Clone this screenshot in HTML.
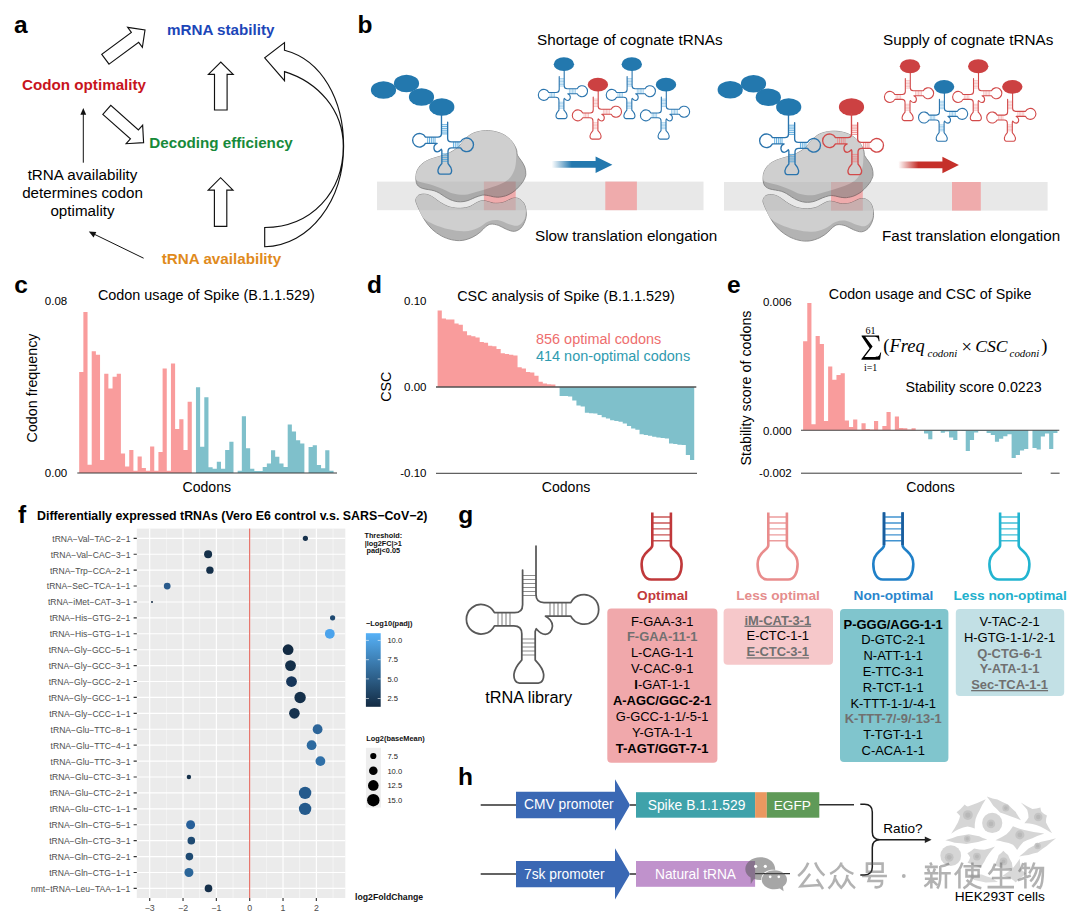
<!DOCTYPE html>
<html><head><meta charset="utf-8"><title>Figure</title>
<style>html,body{margin:0;padding:0;background:#fff}body{width:1080px;height:920px;overflow:hidden}svg{display:block}text{font-family:"Liberation Sans",sans-serif}</style>
</head><body>
<svg width="1080" height="920" viewBox="0 0 1080 920">
<defs>
<linearGradient id="gb" x1="0" x2="1" y1="0" y2="0"><stop offset="0" stop-color="#2378ae" stop-opacity="0"/><stop offset="0.33" stop-color="#2378ae" stop-opacity="1"/></linearGradient>
<linearGradient id="gr" x1="0" x2="1" y1="0" y2="0"><stop offset="0" stop-color="#c5302a" stop-opacity="0"/><stop offset="0.33" stop-color="#c5302a" stop-opacity="1"/></linearGradient>
<linearGradient id="cb" x1="0" x2="0" y1="0" y2="1"><stop offset="0" stop-color="#56b1f7"/><stop offset="1" stop-color="#132b43"/></linearGradient>
</defs>
<rect width="1080" height="920" fill="#fff"/>
<g id="pa">
<text x="14" y="33" font-size="24.5" font-weight="bold" fill="#000">a</text>
<text x="167" y="34.6" font-size="15.2" font-weight="bold" fill="#1c46b8">mRNA stability</text>
<text x="22" y="89.5" font-size="15.2" font-weight="bold" fill="#c8141c">Codon optimality</text>
<text x="149.3" y="147.6" font-size="15.2" font-weight="bold" fill="#178a3a">Decoding efficiency</text>
<text x="161.8" y="263.8" font-size="15.2" font-weight="bold" fill="#e08a1c">tRNA availability</text>
<text x="82.5" y="180.2" font-size="15.2" text-anchor="middle" fill="#000">tRNA availability</text>
<text x="82.5" y="198.2" font-size="15.2" text-anchor="middle" fill="#000">determines codon</text>
<text x="82.5" y="216.2" font-size="15.2" text-anchor="middle" fill="#000">optimality</text>
<polygon points="109.05,64.15 138.67,42.31 142.38,47.34 145,30 127.66,27.38 131.37,32.41 101.75,54.25" fill="#fff" stroke="#111" stroke-width="1.15"/>
<polygon points="102.81,114.39 130.42,138.92 126.17,143.7 143.6,142.6 142.64,125.16 138.39,129.94 110.79,105.41" fill="#fff" stroke="#111" stroke-width="1.15"/>
<polygon points="227.1,110 227.1,74.4 233.2,74.4 220.8,62 208.4,74.4 214.5,74.4 214.5,110" fill="#fff" stroke="#111" stroke-width="1.15"/>
<polygon points="226.8,226.3 226.8,190.1 233,190.1 220.6,177.7 208.2,190.1 214.4,190.1 214.4,226.3" fill="#fff" stroke="#111" stroke-width="1.15"/>
<path d="M264.7,246.7 C310,246 343.6,200 343.6,146.2 C343.6,100 322,60 284.5,50.3 L284.5,42.6 L264.7,57.9 L284.5,80.7 L284.5,71.6 C318,82 343.3,110 343.3,146.2 C343.3,192 312,227 264.7,227.5 Z" fill="#fff" stroke="#111" stroke-width="1.15" stroke-linejoin="miter"/>
<path d="M83.3,162.7 L83.3,113" stroke="#111" stroke-width="1" fill="none"/>
<path d="M80.4,114.8 L83.3,108 L86.2,114.8 Z" fill="#111"/>
<path d="M143.6,258.2 L93,233.6" stroke="#111" stroke-width="1" fill="none"/>
<path d="M93.6,237.4 L88.8,231.5 L96.3,231.9 Z" fill="#111"/>
</g>
<g id="pb">
<text x="357.5" y="33" font-size="24.5" font-weight="bold" fill="#000">b</text>
<text x="537" y="44.5" font-size="15.25" fill="#000">Shortage of cognate tRNAs</text>
<text x="883" y="44.5" font-size="15.25" fill="#000">Supply of cognate tRNAs</text>
<text x="535" y="240.5" font-size="15.25" fill="#000">Slow translation elongation</text>
<text x="882" y="240.5" font-size="15.2" fill="#000">Fast translation elongation</text>
<rect x="377" y="181.6" width="326.5" height="28.6" fill="#e8e8e8"/>
<rect x="724" y="182" width="323.6" height="28.6" fill="#e8e8e8"/>
<rect x="483.9" y="181.6" width="31.8" height="28.6" fill="#efabac"/>
<rect x="605.3" y="181.6" width="31.6" height="28.6" fill="#efabac"/>
<rect x="831" y="182" width="31.8" height="28.6" fill="#efabac"/>
<rect x="952" y="182" width="28.8" height="28.6" fill="#efabac"/>
<g opacity="0.6"><path d="M415.8,200.13C415.98,198.48 417.03,196.43 418.35,195.43C419.66,194.43 421.93,194.18 423.7,194.13C425.46,194.07 427.16,194.45 428.91,195.11C430.66,195.76 432.46,196.92 434.19,198.04C435.93,199.16 437.6,200.67 439.35,201.82C441.1,202.97 442.93,204.07 444.69,204.95C446.45,205.83 448.16,206.58 449.91,207.11C451.66,207.63 453.45,207.88 455.19,208.08C456.93,208.29 458.6,208.41 460.35,208.34C462.1,208.28 464.04,208.02 465.69,207.69C467.35,207.37 468.67,207.08 470.26,206.39C471.85,205.69 473.58,204.39 475.21,203.52C476.84,202.65 478.58,201.63 480.04,201.17C481.5,200.71 482.58,200.69 483.95,200.78C485.32,200.87 486.69,201.3 488.26,201.69C489.82,202.08 491.76,202.87 493.34,203.13C494.93,203.39 496.3,203.32 497.78,203.26C499.26,203.19 500.74,203.11 502.21,202.74C503.69,202.37 505.17,201.68 506.65,201.04C508.13,200.4 509.8,199.39 511.08,198.89C512.37,198.39 513.23,198.14 514.34,198.04C515.45,197.94 516.6,197.93 517.73,198.3C518.86,198.67 520.1,199.43 521.13,200.26C522.15,201.08 523.13,202 523.86,203.26C524.6,204.52 525.15,205.87 525.56,207.82C525.97,209.78 526.47,212.71 526.34,215C526.21,217.28 525.69,219.34 524.78,221.52C523.86,223.69 522.6,226.41 520.86,228.04C519.13,229.67 516.73,231.08 514.34,231.3C511.95,231.52 509.13,230.32 506.52,229.34C503.91,228.37 501.3,226.3 498.69,225.43C496.08,224.56 493.04,223.91 490.87,224.13C488.69,224.34 487.39,225.43 485.65,226.73C483.91,228.04 482.61,230.21 480.43,231.95C478.26,233.69 475.65,235.76 472.61,237.17C469.56,238.58 465.65,240 462.17,240.43C458.69,240.86 455.22,240.54 451.74,239.78C448.26,239.02 444.56,237.6 441.3,235.86C438.04,234.13 434.78,231.73 432.17,229.34C429.56,226.95 427.37,223.91 425.65,221.52C423.93,219.13 422.87,216.82 421.87,215C420.87,213.17 420.41,212.17 419.65,210.56C418.89,208.95 417.95,207.08 417.3,205.34C416.66,203.61 415.63,201.78 415.8,200.13Z" fill="#828282" stroke="#3c3c3c" stroke-width="0.9"/><path d="M415.8,200.13C415.76,197.95 417.03,196.43 418.35,195.43C419.66,194.43 421.93,194.18 423.7,194.13C425.46,194.07 427.16,194.45 428.91,195.11C430.66,195.76 432.46,196.92 434.19,198.04C435.93,199.16 437.6,200.67 439.35,201.82C441.1,202.97 442.93,204.07 444.69,204.95C446.45,205.83 448.16,206.58 449.91,207.11C451.66,207.63 453.45,207.88 455.19,208.08C456.93,208.29 458.6,208.41 460.35,208.34C462.1,208.28 464.04,208.02 465.69,207.69C467.35,207.37 468.67,207.08 470.26,206.39C471.85,205.69 473.58,204.39 475.21,203.52C476.84,202.65 478.58,201.63 480.04,201.17C481.5,200.71 482.58,200.69 483.95,200.78C485.32,200.87 486.69,201.3 488.26,201.69C489.82,202.08 491.76,202.87 493.34,203.13C494.93,203.39 496.3,203.32 497.78,203.26C499.26,203.19 500.74,203.11 502.21,202.74C503.69,202.37 505.17,201.68 506.65,201.04C508.13,200.4 509.8,199.39 511.08,198.89C512.37,198.39 513.23,198.14 514.34,198.04C515.45,197.94 516.6,197.93 517.73,198.3C518.86,198.67 520.1,199.43 521.13,200.26C522.15,201.08 523.13,202 523.86,203.26C524.6,204.52 525.23,206.3 525.56,207.82C525.89,209.34 525.99,210.5 525.82,212.39C525.65,214.28 525.78,217 524.52,219.17C523.26,221.34 520.82,224.6 518.26,225.43C515.69,226.26 512.39,225 509.13,224.13C505.87,223.26 502.17,220.65 498.69,220.21C495.21,219.78 491.74,220.21 488.26,221.52C484.78,222.82 481.74,226.41 477.82,228.04C473.91,229.67 469.56,231.08 464.78,231.3C460,231.52 454.35,230.54 449.13,229.34C443.91,228.15 437.72,225.97 433.48,224.13C429.24,222.28 426.17,220.87 423.7,218.26C421.22,215.65 419.92,211.5 418.61,208.47C417.29,205.45 415.85,202.3 415.8,200.13Z" fill="#b0b0b0"/><path d="M415.87,177.17C416,175.18 416.2,172.82 417.17,170.65C418.15,168.48 419.67,165.98 421.74,164.13C423.8,162.28 426.52,160.87 429.56,159.56C432.61,158.26 436.74,157.39 440,156.3C443.26,155.22 446.09,154.56 449.13,153.04C452.17,151.52 455.65,149.46 458.26,147.17C460.87,144.89 462.39,141.63 464.78,139.35C467.17,137.06 469.56,134.89 472.61,133.48C475.65,132.06 479.56,131.24 483.04,130.87C486.52,130.5 490,130.61 493.47,131.26C496.95,131.91 500.87,133.11 503.91,134.78C506.95,136.46 509.67,138.91 511.73,141.3C513.8,143.69 515.34,146.8 516.3,149.13C517.26,151.46 516.67,153.37 517.47,155.26C518.28,157.15 519.91,158.52 521.13,160.48C522.34,162.43 524,164.65 524.78,167C525.56,169.35 525.97,172.39 525.82,174.56C525.67,176.74 524.47,178.67 523.86,180.04C523.26,181.41 523,181.67 522.17,182.78C521.34,183.89 520.21,185.3 518.91,186.69C517.6,188.08 515.82,189.93 514.34,191.13C512.87,192.32 511.5,193.08 510.04,193.87C508.58,194.65 507.1,195.32 505.6,195.82C504.1,196.32 502.34,196.64 501.04,196.87C499.74,197.09 499.06,197.21 497.78,197.19C496.5,197.17 494.93,197.01 493.34,196.74C491.76,196.46 489.76,195.84 488.26,195.56C486.76,195.28 485.54,195.06 484.34,195.04C483.15,195.02 482.61,195.04 481.08,195.43C479.56,195.82 477.02,196.69 475.21,197.39C473.41,198.08 471.85,198.98 470.26,199.61C468.67,200.24 467.35,200.81 465.69,201.17C464.04,201.54 462.11,201.78 460.35,201.8C458.58,201.81 456.87,201.64 455.13,201.25C453.39,200.86 451.65,200.25 449.91,199.48C448.17,198.7 446.45,197.67 444.69,196.61C442.93,195.54 441.11,194.06 439.35,193.08C437.59,192.11 435.98,191.32 434.13,190.74C432.28,190.15 430.19,189.95 428.26,189.56C426.33,189.17 424.17,188.96 422.52,188.39C420.87,187.81 419.37,187.07 418.35,186.11C417.33,185.14 416.8,184.09 416.39,182.6C415.98,181.11 415.74,179.16 415.87,177.17Z" fill="#828282" stroke="#3c3c3c" stroke-width="0.9"/><path d="M415.87,177.17C415.72,175.39 416.2,172.82 417.17,170.65C418.15,168.48 419.67,165.98 421.74,164.13C423.8,162.28 426.52,160.87 429.56,159.56C432.61,158.26 436.74,157.39 440,156.3C443.26,155.22 446.09,154.56 449.13,153.04C452.17,151.52 455.65,149.46 458.26,147.17C460.87,144.89 462.39,141.63 464.78,139.35C467.17,137.06 469.56,134.89 472.61,133.48C475.65,132.06 479.56,131.24 483.04,130.87C486.52,130.5 490,130.61 493.47,131.26C496.95,131.91 500.87,133.11 503.91,134.78C506.95,136.46 509.78,138.91 511.73,141.3C513.69,143.69 514.91,146.41 515.65,149.13C516.39,151.85 516.28,154.46 516.17,157.61C516.06,160.76 515.95,164.78 515,168.04C514.04,171.3 512.28,174.78 510.43,177.17C508.58,179.56 506.52,180.87 503.91,182.39C501.3,183.91 497.82,185.17 494.78,186.3C491.74,187.43 488.91,188.17 485.65,189.17C482.39,190.17 478.69,191.37 475.21,192.3C471.74,193.24 468.48,194.58 464.78,194.78C461.08,194.98 456.74,194.45 453.04,193.48C449.35,192.5 446.52,190.43 442.61,188.91C438.69,187.39 433.65,185.61 429.56,184.35C425.48,183.08 420.37,182.54 418.09,181.35C415.8,180.15 416.02,178.95 415.87,177.17Z" fill="#b0b0b0"/></g>
<ellipse cx="383.5" cy="90" rx="12.6" ry="8.8" fill="#2378ae"/>
<ellipse cx="406.5" cy="83.5" rx="12.6" ry="8.8" fill="#2378ae"/>
<ellipse cx="421.5" cy="97" rx="12.6" ry="8.8" fill="#2378ae"/>
<ellipse cx="441.8" cy="107" rx="12.6" ry="8.8" fill="#2378ae"/>
<path d="M447.64,124.71 L441.48,124.71 M447.64,126.55 L441.48,126.55 M447.64,128.39 L441.48,128.39 M447.64,130.23 L441.48,130.23 M447.64,132.07 L441.48,132.07 M447.64,133.91 L441.48,133.91 M448.01,153.92 L441.85,153.92 M448.01,155.76 L441.85,155.76 M448.01,157.6 L441.85,157.6 M448.01,159.44 L441.85,159.44 M448.01,161.28 L441.85,161.28 M458.96,141.82 L458.96,147.85 M457.12,141.82 L457.12,147.85 M455.28,141.82 L455.28,147.85 M453.44,141.82 L453.44,147.85 M435.04,137.18 L435.04,143.43 M433.2,137.18 L433.2,143.43 M431.36,137.18 L431.36,143.43 M429.52,137.18 L429.52,143.43 M427.68,137.18 L427.68,143.43 " fill="none" stroke="#4aa3dc" stroke-width="0.85"/><path d="M441.48,113.44 L441.48,133.5 Q441.48,137.18 437.8,137.18 L425.49,137.18 A6.81,6.81 0 1 0 425.49,143.43 L437.11,143.43 C435.73,144.03 433.75,145.87 433.94,148.17 C434.12,150.33 435.5,151.8 437.2,151.8 C438.95,151.8 440.19,150.61 441.39,149.23 L441.85,150.47 L441.85,163.58 C441.16,164.5 438.44,166.57 437.98,170.02 C437.8,172.09 438.49,174.16 440.42,174.16 L449.12,174.16 C451.05,174.16 451.78,172.09 451.6,170.02 C451.14,166.57 448.7,164.5 448.01,163.58 L448.01,151.53 Q448.01,147.85 451.69,147.85 L460.58,147.85 A6.81,6.81 0 1 0 460.58,141.82 L451.32,141.82 Q447.64,141.82 447.64,138.14 L447.64,122.18" fill="none" stroke="#2a74ad" stroke-width="1.35" stroke-linejoin="round" stroke-linecap="round"/>
<g opacity="0.6"><path d="M763,200.63C763.18,198.98 764.23,196.93 765.55,195.93C766.86,194.93 769.13,194.68 770.9,194.63C772.66,194.57 774.36,194.95 776.11,195.61C777.86,196.26 779.66,197.42 781.39,198.54C783.13,199.66 784.8,201.17 786.55,202.32C788.3,203.47 790.13,204.57 791.89,205.45C793.65,206.33 795.36,207.08 797.11,207.61C798.86,208.13 800.65,208.38 802.39,208.58C804.13,208.79 805.8,208.91 807.55,208.84C809.3,208.78 811.24,208.52 812.89,208.19C814.55,207.87 815.87,207.58 817.46,206.89C819.05,206.19 820.78,204.89 822.41,204.02C824.04,203.15 825.78,202.13 827.24,201.67C828.7,201.21 829.78,201.19 831.15,201.28C832.52,201.37 833.89,201.8 835.46,202.19C837.02,202.58 838.96,203.37 840.54,203.63C842.13,203.89 843.5,203.82 844.98,203.76C846.46,203.69 847.94,203.61 849.41,203.24C850.89,202.87 852.37,202.18 853.85,201.54C855.33,200.9 857,199.89 858.28,199.39C859.57,198.89 860.43,198.64 861.54,198.54C862.65,198.44 863.8,198.43 864.93,198.8C866.06,199.17 867.3,199.93 868.33,200.76C869.35,201.58 870.33,202.5 871.06,203.76C871.8,205.02 872.35,206.37 872.76,208.32C873.17,210.28 873.67,213.21 873.54,215.5C873.41,217.78 872.89,219.84 871.98,222.02C871.06,224.19 869.8,226.91 868.06,228.54C866.33,230.17 863.93,231.58 861.54,231.8C859.15,232.02 856.33,230.82 853.72,229.84C851.11,228.87 848.5,226.8 845.89,225.93C843.28,225.06 840.24,224.41 838.07,224.63C835.89,224.84 834.59,225.93 832.85,227.23C831.11,228.54 829.81,230.71 827.63,232.45C825.46,234.19 822.85,236.26 819.81,237.67C816.76,239.08 812.85,240.5 809.37,240.93C805.89,241.36 802.42,241.04 798.94,240.28C795.46,239.52 791.76,238.1 788.5,236.36C785.24,234.63 781.98,232.23 779.37,229.84C776.76,227.45 774.57,224.41 772.85,222.02C771.13,219.63 770.07,217.32 769.07,215.5C768.07,213.67 767.61,212.67 766.85,211.06C766.09,209.45 765.15,207.58 764.5,205.84C763.86,204.11 762.83,202.28 763,200.63Z" fill="#828282" stroke="#3c3c3c" stroke-width="0.9"/><path d="M763,200.63C762.96,198.45 764.23,196.93 765.55,195.93C766.86,194.93 769.13,194.68 770.9,194.63C772.66,194.57 774.36,194.95 776.11,195.61C777.86,196.26 779.66,197.42 781.39,198.54C783.13,199.66 784.8,201.17 786.55,202.32C788.3,203.47 790.13,204.57 791.89,205.45C793.65,206.33 795.36,207.08 797.11,207.61C798.86,208.13 800.65,208.38 802.39,208.58C804.13,208.79 805.8,208.91 807.55,208.84C809.3,208.78 811.24,208.52 812.89,208.19C814.55,207.87 815.87,207.58 817.46,206.89C819.05,206.19 820.78,204.89 822.41,204.02C824.04,203.15 825.78,202.13 827.24,201.67C828.7,201.21 829.78,201.19 831.15,201.28C832.52,201.37 833.89,201.8 835.46,202.19C837.02,202.58 838.96,203.37 840.54,203.63C842.13,203.89 843.5,203.82 844.98,203.76C846.46,203.69 847.94,203.61 849.41,203.24C850.89,202.87 852.37,202.18 853.85,201.54C855.33,200.9 857,199.89 858.28,199.39C859.57,198.89 860.43,198.64 861.54,198.54C862.65,198.44 863.8,198.43 864.93,198.8C866.06,199.17 867.3,199.93 868.33,200.76C869.35,201.58 870.33,202.5 871.06,203.76C871.8,205.02 872.43,206.8 872.76,208.32C873.09,209.84 873.19,211 873.02,212.89C872.85,214.78 872.98,217.5 871.72,219.67C870.46,221.84 868.02,225.1 865.46,225.93C862.89,226.76 859.59,225.5 856.33,224.63C853.07,223.76 849.37,221.15 845.89,220.71C842.41,220.28 838.94,220.71 835.46,222.02C831.98,223.32 828.94,226.91 825.02,228.54C821.11,230.17 816.76,231.58 811.98,231.8C807.2,232.02 801.55,231.04 796.33,229.84C791.11,228.65 784.92,226.47 780.68,224.63C776.44,222.78 773.37,221.37 770.9,218.76C768.42,216.15 767.12,212 765.81,208.97C764.49,205.95 763.05,202.8 763,200.63Z" fill="#b0b0b0"/><path d="M763.07,177.67C763.2,175.68 763.4,173.32 764.37,171.15C765.35,168.98 766.87,166.48 768.94,164.63C771,162.78 773.72,161.37 776.76,160.06C779.81,158.76 783.94,157.89 787.2,156.8C790.46,155.72 793.29,155.06 796.33,153.54C799.37,152.02 802.85,149.96 805.46,147.67C808.07,145.39 809.59,142.13 811.98,139.85C814.37,137.56 816.76,135.39 819.81,133.98C822.85,132.56 826.76,131.74 830.24,131.37C833.72,131 837.2,131.11 840.67,131.76C844.15,132.41 848.07,133.61 851.11,135.28C854.15,136.96 856.87,139.41 858.93,141.8C861,144.19 862.54,147.3 863.5,149.63C864.46,151.96 863.87,153.87 864.67,155.76C865.48,157.65 867.11,159.02 868.33,160.98C869.54,162.93 871.2,165.15 871.98,167.5C872.76,169.85 873.17,172.89 873.02,175.06C872.87,177.24 871.67,179.17 871.06,180.54C870.46,181.91 870.2,182.17 869.37,183.28C868.54,184.39 867.41,185.8 866.11,187.19C864.8,188.58 863.02,190.43 861.54,191.63C860.07,192.82 858.7,193.58 857.24,194.37C855.78,195.15 854.3,195.82 852.8,196.32C851.3,196.82 849.54,197.14 848.24,197.37C846.94,197.59 846.26,197.71 844.98,197.69C843.7,197.67 842.13,197.51 840.54,197.24C838.96,196.96 836.96,196.34 835.46,196.06C833.96,195.78 832.74,195.56 831.54,195.54C830.35,195.52 829.81,195.54 828.28,195.93C826.76,196.32 824.22,197.19 822.41,197.89C820.61,198.58 819.05,199.48 817.46,200.11C815.87,200.74 814.55,201.31 812.89,201.67C811.24,202.04 809.31,202.28 807.55,202.3C805.78,202.31 804.07,202.14 802.33,201.75C800.59,201.36 798.85,200.75 797.11,199.98C795.37,199.2 793.65,198.17 791.89,197.11C790.13,196.04 788.31,194.56 786.55,193.58C784.79,192.61 783.18,191.82 781.33,191.24C779.48,190.65 777.39,190.45 775.46,190.06C773.53,189.67 771.37,189.46 769.72,188.89C768.07,188.31 766.57,187.57 765.55,186.61C764.53,185.64 764,184.59 763.59,183.1C763.18,181.61 762.94,179.66 763.07,177.67Z" fill="#828282" stroke="#3c3c3c" stroke-width="0.9"/><path d="M763.07,177.67C762.92,175.89 763.4,173.32 764.37,171.15C765.35,168.98 766.87,166.48 768.94,164.63C771,162.78 773.72,161.37 776.76,160.06C779.81,158.76 783.94,157.89 787.2,156.8C790.46,155.72 793.29,155.06 796.33,153.54C799.37,152.02 802.85,149.96 805.46,147.67C808.07,145.39 809.59,142.13 811.98,139.85C814.37,137.56 816.76,135.39 819.81,133.98C822.85,132.56 826.76,131.74 830.24,131.37C833.72,131 837.2,131.11 840.67,131.76C844.15,132.41 848.07,133.61 851.11,135.28C854.15,136.96 856.98,139.41 858.93,141.8C860.89,144.19 862.11,146.91 862.85,149.63C863.59,152.35 863.48,154.96 863.37,158.11C863.26,161.26 863.15,165.28 862.2,168.54C861.24,171.8 859.48,175.28 857.63,177.67C855.78,180.06 853.72,181.37 851.11,182.89C848.5,184.41 845.02,185.67 841.98,186.8C838.94,187.93 836.11,188.67 832.85,189.67C829.59,190.67 825.89,191.87 822.41,192.8C818.94,193.74 815.68,195.08 811.98,195.28C808.28,195.48 803.94,194.95 800.24,193.98C796.55,193 793.72,190.93 789.81,189.41C785.89,187.89 780.85,186.11 776.76,184.85C772.68,183.58 767.57,183.04 765.29,181.85C763,180.65 763.22,179.45 763.07,177.67Z" fill="#b0b0b0"/></g>
<ellipse cx="730.2" cy="89.8" rx="12.6" ry="8.8" fill="#2378ae"/>
<ellipse cx="753.5" cy="83.7" rx="12.6" ry="8.8" fill="#2378ae"/>
<ellipse cx="768.3" cy="97.2" rx="12.6" ry="8.8" fill="#2378ae"/>
<ellipse cx="788.7" cy="107" rx="12.6" ry="8.8" fill="#2378ae"/>
<path d="M794.64,125.21 L788.48,125.21 M794.64,127.05 L788.48,127.05 M794.64,128.89 L788.48,128.89 M794.64,130.73 L788.48,130.73 M794.64,132.57 L788.48,132.57 M794.64,134.41 L788.48,134.41 M795.01,154.42 L788.85,154.42 M795.01,156.26 L788.85,156.26 M795.01,158.1 L788.85,158.1 M795.01,159.94 L788.85,159.94 M795.01,161.78 L788.85,161.78 M805.96,142.32 L805.96,148.35 M804.12,142.32 L804.12,148.35 M802.28,142.32 L802.28,148.35 M800.44,142.32 L800.44,148.35 M782.04,137.68 L782.04,143.93 M780.2,137.68 L780.2,143.93 M778.36,137.68 L778.36,143.93 M776.52,137.68 L776.52,143.93 M774.68,137.68 L774.68,143.93 " fill="none" stroke="#4aa3dc" stroke-width="0.85"/><path d="M788.48,113.94 L788.48,134 Q788.48,137.68 784.8,137.68 L772.49,137.68 A6.81,6.81 0 1 0 772.49,143.93 L784.11,143.93 C782.73,144.53 780.75,146.37 780.94,148.67 C781.12,150.83 782.5,152.3 784.2,152.3 C785.95,152.3 787.19,151.11 788.39,149.73 L788.85,150.97 L788.85,164.08 C788.16,165 785.44,167.07 784.98,170.52 C784.8,172.59 785.49,174.66 787.42,174.66 L796.12,174.66 C798.05,174.66 798.78,172.59 798.6,170.52 C798.14,167.07 795.7,165 795.01,164.08 L795.01,152.03 Q795.01,148.35 798.69,148.35 L807.58,148.35 A6.81,6.81 0 1 0 807.58,142.32 L798.32,142.32 Q794.64,142.32 794.64,138.64 L794.64,122.68" fill="none" stroke="#2a74ad" stroke-width="1.35" stroke-linejoin="round" stroke-linecap="round"/>
<ellipse cx="851.5" cy="107" rx="12.6" ry="8.8" fill="#cc4142"/>
<path d="M857.64,125.21 L851.48,125.21 M857.64,127.05 L851.48,127.05 M857.64,128.89 L851.48,128.89 M857.64,130.73 L851.48,130.73 M857.64,132.57 L851.48,132.57 M857.64,134.41 L851.48,134.41 M858.01,154.42 L851.85,154.42 M858.01,156.26 L851.85,156.26 M858.01,158.1 L851.85,158.1 M858.01,159.94 L851.85,159.94 M858.01,161.78 L851.85,161.78 M868.96,142.32 L868.96,148.35 M867.12,142.32 L867.12,148.35 M865.28,142.32 L865.28,148.35 M863.44,142.32 L863.44,148.35 M845.04,137.68 L845.04,143.93 M843.2,137.68 L843.2,143.93 M841.36,137.68 L841.36,143.93 M839.52,137.68 L839.52,143.93 M837.68,137.68 L837.68,143.93 " fill="none" stroke="#ec8585" stroke-width="0.85"/><path d="M851.48,113.94 L851.48,134 Q851.48,137.68 847.8,137.68 L835.49,137.68 A6.81,6.81 0 1 0 835.49,143.93 L847.11,143.93 C845.73,144.53 843.75,146.37 843.94,148.67 C844.12,150.83 845.5,152.3 847.2,152.3 C848.95,152.3 850.19,151.11 851.39,149.73 L851.85,150.97 L851.85,164.08 C851.16,165 848.44,167.07 847.98,170.52 C847.8,172.59 848.49,174.66 850.42,174.66 L859.12,174.66 C861.05,174.66 861.78,172.59 861.6,170.52 C861.14,167.07 858.7,165 858.01,164.08 L858.01,152.03 Q858.01,148.35 861.69,148.35 L870.58,148.35 A6.81,6.81 0 1 0 870.58,142.32 L861.32,142.32 Q857.64,142.32 857.64,138.64 L857.64,122.68" fill="none" stroke="#d24a4a" stroke-width="1.35" stroke-linejoin="round" stroke-linecap="round"/>
<path d="M559.22,78.61 L564.2,78.61 M559.22,80.1 L564.2,80.1 M559.22,81.59 L564.2,81.59 M559.22,83.08 L564.2,83.08 M559.22,84.56 L564.2,84.56 M559.22,86.05 L564.2,86.05 M558.92,102.23 L563.91,102.23 M558.92,103.72 L563.91,103.72 M558.92,105.21 L563.91,105.21 M558.92,106.7 L563.91,106.7 M558.92,108.19 L563.91,108.19 M550.07,92.45 L550.07,97.32 M551.56,92.45 L551.56,97.32 M553.04,92.45 L553.04,97.32 M554.53,92.45 L554.53,97.32 M569.41,88.69 L569.41,93.75 M570.9,88.69 L570.9,93.75 M572.39,88.69 L572.39,93.75 M573.88,88.69 L573.88,93.75 M575.36,88.69 L575.36,93.75 " fill="none" stroke="#6ab4e2" stroke-width="0.6"/><path d="M564.2,70.24 L564.2,85.72 Q564.2,88.69 567.18,88.69 L577.13,88.69 A5.51,5.51 0 1 1 577.13,93.75 L567.74,93.75 C568.85,94.24 570.45,95.72 570.3,97.58 C570.16,99.33 569.04,100.52 567.66,100.52 C566.25,100.52 565.25,99.56 564.28,98.44 L563.91,99.44 L563.91,110.05 C564.46,110.79 566.66,112.46 567.03,115.25 C567.18,116.93 566.62,118.6 565.06,118.6 L558.03,118.6 C556.47,118.6 555.87,116.93 556.02,115.25 C556.39,112.46 558.36,110.79 558.92,110.05 L558.92,100.3 Q558.92,97.32 555.95,97.32 L548.76,97.32 A5.51,5.51 0 1 1 548.76,92.45 L556.24,92.45 Q559.22,92.45 559.22,89.47 L559.22,76.57" fill="none" stroke="#2a74ad" stroke-width="1.1" stroke-linejoin="round" stroke-linecap="round"/>
<ellipse cx="563.9" cy="64.2" rx="10.2" ry="6.9" fill="#2378ae"/>
<path d="M593.22,99.11 L598.2,99.11 M593.22,100.6 L598.2,100.6 M593.22,102.09 L598.2,102.09 M593.22,103.58 L598.2,103.58 M593.22,105.06 L598.2,105.06 M593.22,106.55 L598.2,106.55 M592.92,122.73 L597.91,122.73 M592.92,124.22 L597.91,124.22 M592.92,125.71 L597.91,125.71 M592.92,127.2 L597.91,127.2 M592.92,128.69 L597.91,128.69 M584.07,112.95 L584.07,117.82 M585.56,112.95 L585.56,117.82 M587.04,112.95 L587.04,117.82 M588.53,112.95 L588.53,117.82 M603.41,109.19 L603.41,114.25 M604.9,109.19 L604.9,114.25 M606.39,109.19 L606.39,114.25 M607.88,109.19 L607.88,114.25 M609.36,109.19 L609.36,114.25 " fill="none" stroke="#f0a0a0" stroke-width="0.6"/><path d="M598.2,90.74 L598.2,106.22 Q598.2,109.19 601.18,109.19 L611.13,109.19 A5.51,5.51 0 1 1 611.13,114.25 L601.74,114.25 C602.85,114.74 604.45,116.22 604.3,118.08 C604.16,119.83 603.04,121.02 601.66,121.02 C600.25,121.02 599.25,120.06 598.28,118.94 L597.91,119.94 L597.91,130.55 C598.46,131.29 600.66,132.96 601.03,135.75 C601.18,137.43 600.62,139.1 599.06,139.1 L592.03,139.1 C590.47,139.1 589.87,137.43 590.02,135.75 C590.39,132.96 592.36,131.29 592.92,130.55 L592.92,120.8 Q592.92,117.82 589.95,117.82 L582.76,117.82 A5.51,5.51 0 1 1 582.76,112.95 L590.24,112.95 Q593.22,112.95 593.22,109.97 L593.22,97.07" fill="none" stroke="#d24a4a" stroke-width="1.1" stroke-linejoin="round" stroke-linecap="round"/>
<ellipse cx="597.9" cy="84.7" rx="10.2" ry="6.9" fill="#cc4142"/>
<path d="M627.12,78.61 L632.1,78.61 M627.12,80.1 L632.1,80.1 M627.12,81.59 L632.1,81.59 M627.12,83.08 L632.1,83.08 M627.12,84.56 L632.1,84.56 M627.12,86.05 L632.1,86.05 M626.82,102.23 L631.81,102.23 M626.82,103.72 L631.81,103.72 M626.82,105.21 L631.81,105.21 M626.82,106.7 L631.81,106.7 M626.82,108.19 L631.81,108.19 M617.97,92.45 L617.97,97.32 M619.46,92.45 L619.46,97.32 M620.94,92.45 L620.94,97.32 M622.43,92.45 L622.43,97.32 M637.31,88.69 L637.31,93.75 M638.8,88.69 L638.8,93.75 M640.29,88.69 L640.29,93.75 M641.78,88.69 L641.78,93.75 M643.26,88.69 L643.26,93.75 " fill="none" stroke="#6ab4e2" stroke-width="0.6"/><path d="M632.1,70.24 L632.1,85.72 Q632.1,88.69 635.08,88.69 L645.03,88.69 A5.51,5.51 0 1 1 645.03,93.75 L635.64,93.75 C636.75,94.24 638.35,95.72 638.2,97.58 C638.06,99.33 636.94,100.52 635.56,100.52 C634.15,100.52 633.15,99.56 632.18,98.44 L631.81,99.44 L631.81,110.05 C632.36,110.79 634.56,112.46 634.93,115.25 C635.08,116.93 634.52,118.6 632.96,118.6 L625.93,118.6 C624.37,118.6 623.77,116.93 623.92,115.25 C624.29,112.46 626.26,110.79 626.82,110.05 L626.82,100.3 Q626.82,97.32 623.85,97.32 L616.66,97.32 A5.51,5.51 0 1 1 616.66,92.45 L624.14,92.45 Q627.12,92.45 627.12,89.47 L627.12,76.57" fill="none" stroke="#2a74ad" stroke-width="1.1" stroke-linejoin="round" stroke-linecap="round"/>
<ellipse cx="631.8" cy="64.2" rx="10.2" ry="6.9" fill="#2378ae"/>
<path d="M661.32,99.11 L666.3,99.11 M661.32,100.6 L666.3,100.6 M661.32,102.09 L666.3,102.09 M661.32,103.58 L666.3,103.58 M661.32,105.06 L666.3,105.06 M661.32,106.55 L666.3,106.55 M661.02,122.73 L666.01,122.73 M661.02,124.22 L666.01,124.22 M661.02,125.71 L666.01,125.71 M661.02,127.2 L666.01,127.2 M661.02,128.69 L666.01,128.69 M652.17,112.95 L652.17,117.82 M653.66,112.95 L653.66,117.82 M655.14,112.95 L655.14,117.82 M656.63,112.95 L656.63,117.82 M671.51,109.19 L671.51,114.25 M673,109.19 L673,114.25 M674.49,109.19 L674.49,114.25 M675.98,109.19 L675.98,114.25 M677.46,109.19 L677.46,114.25 " fill="none" stroke="#6ab4e2" stroke-width="0.6"/><path d="M666.3,90.74 L666.3,106.22 Q666.3,109.19 669.28,109.19 L679.23,109.19 A5.51,5.51 0 1 1 679.23,114.25 L669.84,114.25 C670.95,114.74 672.55,116.22 672.4,118.08 C672.26,119.83 671.14,121.02 669.76,121.02 C668.35,121.02 667.35,120.06 666.38,118.94 L666.01,119.94 L666.01,130.55 C666.56,131.29 668.76,132.96 669.13,135.75 C669.28,137.43 668.72,139.1 667.16,139.1 L660.13,139.1 C658.57,139.1 657.97,137.43 658.12,135.75 C658.49,132.96 660.46,131.29 661.02,130.55 L661.02,120.8 Q661.02,117.82 658.05,117.82 L650.86,117.82 A5.51,5.51 0 1 1 650.86,112.95 L658.34,112.95 Q661.32,112.95 661.32,109.97 L661.32,97.07" fill="none" stroke="#2a74ad" stroke-width="1.1" stroke-linejoin="round" stroke-linecap="round"/>
<ellipse cx="666" cy="84.7" rx="10.2" ry="6.9" fill="#2378ae"/>
<path d="M905.32,80.66 L910.3,80.66 M905.32,82.15 L910.3,82.15 M905.32,83.64 L910.3,83.64 M905.32,85.13 L910.3,85.13 M905.32,86.61 L910.3,86.61 M905.32,88.1 L910.3,88.1 M905.02,104.28 L910.01,104.28 M905.02,105.77 L910.01,105.77 M905.02,107.26 L910.01,107.26 M905.02,108.75 L910.01,108.75 M905.02,110.24 L910.01,110.24 M896.17,94.5 L896.17,99.37 M897.66,94.5 L897.66,99.37 M899.14,94.5 L899.14,99.37 M900.63,94.5 L900.63,99.37 M915.51,90.74 L915.51,95.8 M917,90.74 L917,95.8 M918.49,90.74 L918.49,95.8 M919.98,90.74 L919.98,95.8 M921.46,90.74 L921.46,95.8 " fill="none" stroke="#f0a0a0" stroke-width="0.6"/><path d="M910.3,72.29 L910.3,87.77 Q910.3,90.74 913.28,90.74 L923.23,90.74 A5.51,5.51 0 1 1 923.23,95.8 L913.84,95.8 C914.95,96.29 916.55,97.77 916.4,99.63 C916.26,101.38 915.14,102.57 913.76,102.57 C912.35,102.57 911.35,101.61 910.38,100.49 L910.01,101.49 L910.01,112.1 C910.56,112.84 912.76,114.51 913.13,117.3 C913.28,118.98 912.72,120.65 911.16,120.65 L904.13,120.65 C902.57,120.65 901.97,118.98 902.12,117.3 C902.49,114.51 904.46,112.84 905.02,112.1 L905.02,102.35 Q905.02,99.37 902.05,99.37 L894.86,99.37 A5.51,5.51 0 1 1 894.86,94.5 L902.34,94.5 Q905.32,94.5 905.32,91.52 L905.32,78.62" fill="none" stroke="#d24a4a" stroke-width="1.1" stroke-linejoin="round" stroke-linecap="round"/>
<ellipse cx="910" cy="66.25" rx="10.2" ry="6.9" fill="#cc4142"/>
<path d="M939.42,101.26 L944.4,101.26 M939.42,102.75 L944.4,102.75 M939.42,104.24 L944.4,104.24 M939.42,105.73 L944.4,105.73 M939.42,107.21 L944.4,107.21 M939.42,108.7 L944.4,108.7 M939.12,124.88 L944.11,124.88 M939.12,126.37 L944.11,126.37 M939.12,127.86 L944.11,127.86 M939.12,129.35 L944.11,129.35 M939.12,130.84 L944.11,130.84 M930.27,115.1 L930.27,119.97 M931.76,115.1 L931.76,119.97 M933.24,115.1 L933.24,119.97 M934.73,115.1 L934.73,119.97 M949.61,111.34 L949.61,116.4 M951.1,111.34 L951.1,116.4 M952.59,111.34 L952.59,116.4 M954.08,111.34 L954.08,116.4 M955.56,111.34 L955.56,116.4 " fill="none" stroke="#6ab4e2" stroke-width="0.6"/><path d="M944.4,92.89 L944.4,108.37 Q944.4,111.34 947.38,111.34 L957.33,111.34 A5.51,5.51 0 1 1 957.33,116.4 L947.94,116.4 C949.05,116.89 950.65,118.37 950.5,120.23 C950.36,121.98 949.24,123.17 947.86,123.17 C946.45,123.17 945.45,122.21 944.48,121.09 L944.11,122.09 L944.11,132.7 C944.66,133.44 946.86,135.11 947.23,137.9 C947.38,139.58 946.82,141.25 945.26,141.25 L938.23,141.25 C936.67,141.25 936.07,139.58 936.22,137.9 C936.59,135.11 938.56,133.44 939.12,132.7 L939.12,122.95 Q939.12,119.97 936.15,119.97 L928.96,119.97 A5.51,5.51 0 1 1 928.96,115.1 L936.44,115.1 Q939.42,115.1 939.42,112.12 L939.42,99.22" fill="none" stroke="#2a74ad" stroke-width="1.1" stroke-linejoin="round" stroke-linecap="round"/>
<ellipse cx="944.1" cy="86.85" rx="10.2" ry="6.9" fill="#2378ae"/>
<path d="M973.52,80.66 L978.5,80.66 M973.52,82.15 L978.5,82.15 M973.52,83.64 L978.5,83.64 M973.52,85.13 L978.5,85.13 M973.52,86.61 L978.5,86.61 M973.52,88.1 L978.5,88.1 M973.22,104.28 L978.21,104.28 M973.22,105.77 L978.21,105.77 M973.22,107.26 L978.21,107.26 M973.22,108.75 L978.21,108.75 M973.22,110.24 L978.21,110.24 M964.37,94.5 L964.37,99.37 M965.86,94.5 L965.86,99.37 M967.34,94.5 L967.34,99.37 M968.83,94.5 L968.83,99.37 M983.71,90.74 L983.71,95.8 M985.2,90.74 L985.2,95.8 M986.69,90.74 L986.69,95.8 M988.18,90.74 L988.18,95.8 M989.66,90.74 L989.66,95.8 " fill="none" stroke="#f0a0a0" stroke-width="0.6"/><path d="M978.5,72.29 L978.5,87.77 Q978.5,90.74 981.48,90.74 L991.43,90.74 A5.51,5.51 0 1 1 991.43,95.8 L982.04,95.8 C983.15,96.29 984.75,97.77 984.6,99.63 C984.46,101.38 983.34,102.57 981.96,102.57 C980.55,102.57 979.55,101.61 978.58,100.49 L978.21,101.49 L978.21,112.1 C978.76,112.84 980.96,114.51 981.33,117.3 C981.48,118.98 980.92,120.65 979.36,120.65 L972.33,120.65 C970.77,120.65 970.17,118.98 970.32,117.3 C970.69,114.51 972.66,112.84 973.22,112.1 L973.22,102.35 Q973.22,99.37 970.25,99.37 L963.06,99.37 A5.51,5.51 0 1 1 963.06,94.5 L970.54,94.5 Q973.52,94.5 973.52,91.52 L973.52,78.62" fill="none" stroke="#d24a4a" stroke-width="1.1" stroke-linejoin="round" stroke-linecap="round"/>
<ellipse cx="978.2" cy="66.25" rx="10.2" ry="6.9" fill="#cc4142"/>
<path d="M1007.62,101.26 L1012.6,101.26 M1007.62,102.75 L1012.6,102.75 M1007.62,104.24 L1012.6,104.24 M1007.62,105.73 L1012.6,105.73 M1007.62,107.21 L1012.6,107.21 M1007.62,108.7 L1012.6,108.7 M1007.32,124.88 L1012.31,124.88 M1007.32,126.37 L1012.31,126.37 M1007.32,127.86 L1012.31,127.86 M1007.32,129.35 L1012.31,129.35 M1007.32,130.84 L1012.31,130.84 M998.47,115.1 L998.47,119.97 M999.96,115.1 L999.96,119.97 M1001.44,115.1 L1001.44,119.97 M1002.93,115.1 L1002.93,119.97 M1017.81,111.34 L1017.81,116.4 M1019.3,111.34 L1019.3,116.4 M1020.79,111.34 L1020.79,116.4 M1022.28,111.34 L1022.28,116.4 M1023.76,111.34 L1023.76,116.4 " fill="none" stroke="#f0a0a0" stroke-width="0.6"/><path d="M1012.6,92.89 L1012.6,108.37 Q1012.6,111.34 1015.58,111.34 L1025.53,111.34 A5.51,5.51 0 1 1 1025.53,116.4 L1016.14,116.4 C1017.25,116.89 1018.85,118.37 1018.7,120.23 C1018.56,121.98 1017.44,123.17 1016.06,123.17 C1014.65,123.17 1013.65,122.21 1012.68,121.09 L1012.31,122.09 L1012.31,132.7 C1012.86,133.44 1015.06,135.11 1015.43,137.9 C1015.58,139.58 1015.02,141.25 1013.46,141.25 L1006.43,141.25 C1004.87,141.25 1004.27,139.58 1004.42,137.9 C1004.79,135.11 1006.76,133.44 1007.32,132.7 L1007.32,122.95 Q1007.32,119.97 1004.35,119.97 L997.16,119.97 A5.51,5.51 0 1 1 997.16,115.1 L1004.64,115.1 Q1007.62,115.1 1007.62,112.12 L1007.62,99.22" fill="none" stroke="#d24a4a" stroke-width="1.1" stroke-linejoin="round" stroke-linecap="round"/>
<ellipse cx="1012.3" cy="86.85" rx="10.2" ry="6.9" fill="#cc4142"/>
<path d="M551.7,161.1 L595.6,161.1 L595.6,156.4 L612.4,164.7 L595.6,173.1 L595.6,167.8 L551.7,167.8 Z" fill="url(#gb)"/>
<path d="M898.3,161.4 L942.4,161.4 L942.4,156.7 L958.9,165 L942.4,173.3 L942.4,168.3 L898.3,168.3 Z" fill="url(#gr)"/>
</g>
<g id="pc">
<text x="14.3" y="293" font-size="24.5" font-weight="bold" fill="#000">c</text>
<text x="206.3" y="300" font-size="14.4" text-anchor="middle" fill="#000">Codon usage of Spike (B.1.1.529)</text>
<text x="67.2" y="305.2" font-size="11.5" text-anchor="end" fill="#000">0.08</text>
<text x="67.2" y="477.3" font-size="11.5" text-anchor="end" fill="#000">0.00</text>
<text x="206.8" y="492" font-size="14.1" text-anchor="middle" fill="#000">Codons</text>
<text transform="translate(37,388) rotate(-90)" font-size="14.3" text-anchor="middle" fill="#000">Codon frequency</text>
<path d="M79.2,473v-101.1h4.17v101.1zM83.37,473v-160.9h4.17v160.9zM87.54,473v-8.2h4.17v8.2zM91.71,473v-121.8h4.17v121.8zM95.88,473v-118.3h4.17v118.3zM100.05,473v-13.1h4.17v13.1zM104.22,473v-99.3h4.17v99.3zM108.39,473v-84.5h4.17v84.5zM112.56,473v-96.2h4.17v96.2zM116.73,473v-99.3h4.17v99.3zM120.9,473v-19.6h4.17v19.6zM125.07,473v-6.5h4.17v6.5zM129.24,473v-23.1h4.17v23.1zM133.41,473v-2.3h4.17v2.3zM137.58,473v-16.4h4.17v16.4zM141.75,473v-4.9h4.17v4.9zM145.92,473v-2.3h4.17v2.3zM150.09,473v-26.4h4.17v26.4zM154.26,473v-2.3h4.17v2.3zM158.43,473v-21.1h4.17v21.1zM162.6,473v-104.6h4.17v104.6zM166.77,473v-2.3h4.17v2.3zM170.94,473v-109.5h4.17v109.5zM175.11,473v-44h4.17v44zM179.28,473v-53.8h4.17v53.8zM183.45,473v-23.1h4.17v23.1zM187.62,473v-71.2h4.17v71.2z" fill="#f99c9c" shape-rendering="auto"/>
<path d="M195.96,473v-85.8h4.17v85.8zM200.13,473v-26.3h4.17v26.3zM204.3,473v-75.8h4.17v75.8zM208.47,473v-5.7h4.17v5.7zM212.64,473v-4.3h4.17v4.3zM216.81,473v-11.2h4.17v11.2zM220.98,473v-4.3h4.17v4.3zM225.15,473v-23h4.17v23zM229.32,473v-31.3h4.17v31.3zM237.66,473v-2.2h4.17v2.2zM241.83,473v-56.8h4.17v56.8zM246,473v-24.8h4.17v24.8zM250.17,473v-4.3h4.17v4.3zM254.34,473v-1.9h4.17v1.9zM258.51,473v-1.9h4.17v1.9zM262.68,473v-5.9h4.17v5.9zM266.85,473v-9.5h4.17v9.5zM271.02,473v-22.7h4.17v22.7zM275.19,473v-16.2h4.17v16.2zM279.36,473v-9.5h4.17v9.5zM283.53,473v-5.9h4.17v5.9zM287.7,473v-48.5h4.17v48.5zM291.87,473v-41.6h4.17v41.6zM296.04,473v-32.7h4.17v32.7zM300.21,473v-29.6h4.17v29.6zM308.55,473v-26h4.17v26zM312.72,473v-27.7h4.17v27.7zM316.89,473v-7.9h4.17v7.9zM321.06,473v-4.7h4.17v4.7zM325.23,473v-22.7h4.17v22.7zM329.4,473v-2.2h4.17v2.2z" fill="#7fc0cb" shape-rendering="auto"/>
<line x1="77.3" y1="473" x2="337" y2="473" stroke="#3a3a3a" stroke-width="1"/>
</g>
<g id="pd">
<text x="367" y="293" font-size="24.5" font-weight="bold" fill="#000">d</text>
<text x="566" y="301" font-size="14.4" text-anchor="middle" fill="#000">CSC analysis of Spike (B.1.1.529)</text>
<text x="426.5" y="304.8" font-size="11.5" text-anchor="end" fill="#000">0.10</text>
<text x="426.5" y="390.6" font-size="11.5" text-anchor="end" fill="#000">0.00</text>
<text x="426.5" y="477.3" font-size="11.5" text-anchor="end" fill="#000">-0.10</text>
<text x="566" y="492" font-size="14.1" text-anchor="middle" fill="#000">Codons</text>
<text transform="translate(391,386.7) rotate(-90)" font-size="14.3" text-anchor="middle" fill="#000">CSC</text>
<text x="536" y="343.8" font-size="14.45" fill="#ee6e6e">856 optimal codons</text>
<text x="536" y="360.5" font-size="14.45" fill="#2f9bb0">414 non-optimal codons</text>
<path d="M437.6,386.9v-76.5h4.21v76.5zM441.81,386.9v-68.4h4.21v68.4zM446.01,386.9v-67.4h4.21v67.4zM450.22,386.9v-67.4h4.21v67.4zM454.43,386.9v-63.3h4.21v63.3zM458.64,386.9v-62.2h4.21v62.2zM462.84,386.9v-55.7h4.21v55.7zM467.05,386.9v-51.6h4.21v51.6zM471.26,386.9v-50.6h4.21v50.6zM475.46,386.9v-49.3h4.21v49.3zM479.67,386.9v-44.9h4.21v44.9zM483.88,386.9v-44.1h4.21v44.1zM488.08,386.9v-41.2h4.21v41.2zM492.29,386.9v-40.6h4.21v40.6zM496.5,386.9v-38h4.21v38zM500.71,386.9v-33.7h4.21v33.7zM504.91,386.9v-32.8h4.21v32.8zM509.12,386.9v-32.1h4.21v32.1zM513.33,386.9v-31.5h4.21v31.5zM517.53,386.9v-19.6h4.21v19.6zM521.74,386.9v-18.5h4.21v18.5zM525.95,386.9v-15h4.21v15zM530.15,386.9v-14.3h4.21v14.3zM534.36,386.9v-11.1h4.21v11.1zM538.57,386.9v-5.2h4.21v5.2zM542.77,386.9v-3.4h4.21v3.4zM546.98,386.9v-2.6h4.21v2.6zM551.19,386.9v-2.3h4.21v2.3z" fill="#f99c9c" shape-rendering="auto"/>
<path d="M559.6,386.9v9h4.21v-9zM563.81,386.9v9h4.21v-9zM568.02,386.9v9.6h4.21v-9.6zM572.22,386.9v13.6h4.21v-13.6zM576.43,386.9v18.7h4.21v-18.7zM580.64,386.9v19.7h4.21v-19.7zM584.85,386.9v25.8h4.21v-25.8zM589.05,386.9v26.3h4.21v-26.3zM593.26,386.9v26.5h4.21v-26.5zM597.47,386.9v28h4.21v-28zM601.67,386.9v30.4h4.21v-30.4zM605.88,386.9v31.6h4.21v-31.6zM610.09,386.9v33.4h4.21v-33.4zM614.29,386.9v34.2h4.21v-34.2zM618.5,386.9v34.9h4.21v-34.9zM622.71,386.9v36.6h4.21v-36.6zM626.92,386.9v39.2h4.21v-39.2zM631.12,386.9v41.6h4.21v-41.6zM635.33,386.9v42.8h4.21v-42.8zM639.54,386.9v47.4h4.21v-47.4zM643.74,386.9v48.1h4.21v-48.1zM647.95,386.9v48.8h4.21v-48.8zM652.16,386.9v49.8h4.21v-49.8zM656.36,386.9v50.5h4.21v-50.5zM660.57,386.9v51.2h4.21v-51.2zM664.78,386.9v51.7h4.21v-51.7zM668.99,386.9v56.7h4.21v-56.7zM673.19,386.9v57.1h4.21v-57.1zM677.4,386.9v57.8h4.21v-57.8zM681.61,386.9v58.1h4.21v-58.1zM685.81,386.9v68.2h4.21v-68.2zM690.02,386.9v73.2h4.21v-73.2z" fill="#7fc0cb" shape-rendering="auto"/>
<line x1="436" y1="387" x2="696.3" y2="387" stroke="#505050" stroke-width="1.4"/>
<line x1="436" y1="473.3" x2="697" y2="473.3" stroke="#3a3a3a" stroke-width="1"/>
</g>
<g id="pe">
<text x="727" y="293" font-size="24.5" font-weight="bold" fill="#000">e</text>
<text x="930.2" y="299" font-size="14.3" text-anchor="middle" fill="#000">Codon usage and CSC of Spike</text>
<text x="791.7" y="306.3" font-size="11.5" text-anchor="end" fill="#000">0.006</text>
<text x="791.7" y="435" font-size="11.5" text-anchor="end" fill="#000">0.000</text>
<text x="791.7" y="477.3" font-size="11.5" text-anchor="end" fill="#000">-0.002</text>
<text x="930.5" y="492" font-size="14.1" text-anchor="middle" fill="#000">Codons</text>
<text transform="translate(750.8,388) rotate(-90)" font-size="14.3" text-anchor="middle" fill="#000">Stability score of codons</text>
<text x="905.4" y="392.3" font-size="14.25" fill="#000">Stability score 0.0223</text>
<path d="M803.1,430.3v-89.1h4.17v89.1zM807.27,430.3v-127.4h4.17v127.4zM811.44,430.3v-6h4.17v6zM815.61,430.3v-94.2h4.17v94.2zM819.78,430.3v-86.4h4.17v86.4zM823.95,430.3v-9.3h4.17v9.3zM828.12,430.3v-63.9h4.17v63.9zM832.29,430.3v-50.5h4.17v50.5zM836.46,430.3v-55.4h4.17v55.4zM840.63,430.3v-57h4.17v57zM844.8,430.3v-9.8h4.17v9.8zM848.97,430.3v-3.3h4.17v3.3zM853.14,430.3v-10.9h4.17v10.9zM857.31,430.3v-0.5h4.17v0.5zM861.48,430.3v-7h4.17v7zM865.65,430.3v-1.3h4.17v1.3zM869.82,430.3v-0.7h4.17v0.7zM873.99,430.3v-9.3h4.17v9.3zM878.16,430.3v-0.5h4.17v0.5zM882.33,430.3v-4.4h4.17v4.4zM886.5,430.3v-18.3h4.17v18.3zM890.67,430.3v-0.3h4.17v0.3zM894.84,430.3v-13.9h4.17v13.9zM899.01,430.3v-2.4h4.17v2.4zM903.18,430.3v-2h4.17v2zM907.35,430.3v-0.7h4.17v0.7zM911.52,430.3v-2h4.17v2z" fill="#f99c9c" shape-rendering="auto"/>
<path d="M924.03,430.3v3.3h4.17v-3.3zM928.2,430.3v8.9h4.17v-8.9zM932.37,430.3v0.7h4.17v-0.7zM936.54,430.3v0.7h4.17v-0.7zM940.71,430.3v2.5h4.17v-2.5zM944.88,430.3v1.3h4.17v-1.3zM949.05,430.3v7.3h4.17v-7.3zM953.22,430.3v9.6h4.17v-9.6zM957.39,430.3v0.4h4.17v-0.4zM961.56,430.3v0.7h4.17v-0.7zM965.73,430.3v20.7h4.17v-20.7zM969.9,430.3v9.6h4.17v-9.6zM974.07,430.3v2.2h4.17v-2.2zM978.24,430.3v0.7h4.17v-0.7zM982.41,430.3v0.7h4.17v-0.7zM986.58,430.3v2.8h4.17v-2.8zM990.75,430.3v4.7h4.17v-4.7zM994.92,430.3v11.4h4.17v-11.4zM999.09,430.3v8.4h4.17v-8.4zM1003.26,430.3v5.9h4.17v-5.9zM1007.43,430.3v4h4.17v-4zM1011.6,430.3v27.7h4.17v-27.7zM1015.77,430.3v24.7h4.17v-24.7zM1019.94,430.3v20.3h4.17v-20.3zM1024.11,430.3v18.8h4.17v-18.8zM1032.45,430.3v17.6h4.17v-17.6zM1036.62,430.3v19.1h4.17v-19.1zM1040.79,430.3v6.2h4.17v-6.2zM1044.96,430.3v3.3h4.17v-3.3zM1049.13,430.3v18.8h4.17v-18.8zM1053.3,430.3v2.8h4.17v-2.8z" fill="#7fc0cb" shape-rendering="auto"/>
<line x1="801" y1="430.3" x2="1059.3" y2="430.3" stroke="#444" stroke-width="1.1"/>
<line x1="801" y1="473.2" x2="1022" y2="473.2" stroke="#3a3a3a" stroke-width="1"/>
<line x1="1050.7" y1="473.2" x2="1059.6" y2="473.2" stroke="#3a3a3a" stroke-width="1"/>
<path d="M861.6,335.4 L879,335.4 L879.6,341.2 L878.7,341.2 C878.2,337.6 877,336.8 874,336.8 L865.3,336.8 L872.6,346.6 L864.6,357 L875,357 C878.4,357 879.6,355.8 880.4,352.6 L881.2,352.6 L880,359.8 L861.4,359.8 L861.4,359 L869.6,348.2 L861.6,336.2 Z" fill="#000"/>
<text x="870.4" y="333.6" font-size="10" text-anchor="middle" style="font-family:'Liberation Serif',serif" fill="#000">61</text>
<text x="870.6" y="371" font-size="10" text-anchor="middle" style="font-family:'Liberation Serif',serif" fill="#000">i=1</text>
<text x="883.2" y="352.3" font-size="18.5" style="font-family:'Liberation Serif',serif" fill="#000">(</text>
<text x="889.5" y="352.1" font-size="18.5" style="font-family:'Liberation Serif',serif" font-style="italic" fill="#000">Freq</text>
<text x="927.6" y="357" font-size="10.9" style="font-family:'Liberation Serif',serif" font-style="italic" fill="#000">codoni</text>
<text x="961.5" y="352.8" font-size="18.5" style="font-family:'Liberation Serif',serif" fill="#000">×</text>
<text x="975.2" y="352.1" font-size="17.6" style="font-family:'Liberation Serif',serif" font-style="italic" fill="#000">CSC</text>
<text x="1009.6" y="357" font-size="10.9" style="font-family:'Liberation Serif',serif" font-style="italic" fill="#000">codoni</text>
<text x="1041.3" y="352.3" font-size="18.5" style="font-family:'Liberation Serif',serif" fill="#000">)</text>
</g>
<g id="pf">
<text x="18" y="522.5" font-size="24.5" font-weight="bold" fill="#000">f</text>
<text x="37" y="519.8" font-size="12.38" font-weight="bold" fill="#000">Differentially expressed tRNAs (Vero E6 control v.s. SARS−CoV−2)</text>
<rect x="136.8" y="528.6" width="208.5" height="369.4" fill="#ebebeb"/>
<path d="M166.38,528.6V898M199.7,528.6V898M233.03,528.6V898M266.37,528.6V898M299.69,528.6V898M333.02,528.6V898" stroke="#fafafa" stroke-width="0.6" fill="none"/>
<path d="M149.71,528.6V898M183.04,528.6V898M216.37,528.6V898M249.7,528.6V898M283.03,528.6V898M316.36,528.6V898M136.8,538.3H345.3M136.8,554.21H345.3M136.8,570.13H345.3M136.8,586.04H345.3M136.8,601.96H345.3M136.8,617.87H345.3M136.8,633.78H345.3M136.8,649.7H345.3M136.8,665.61H345.3M136.8,681.53H345.3M136.8,697.44H345.3M136.8,713.35H345.3M136.8,729.27H345.3M136.8,745.18H345.3M136.8,761.1H345.3M136.8,777.01H345.3M136.8,792.92H345.3M136.8,808.84H345.3M136.8,824.75H345.3M136.8,840.67H345.3M136.8,856.58H345.3M136.8,872.49H345.3M136.8,888.41H345.3" stroke="#fff" stroke-width="1.15" fill="none"/>
<line x1="249.7" y1="528.6" x2="249.7" y2="898" stroke="#e2574c" stroke-width="1"/>
<text x="130.4" y="541.75" font-size="8.56" text-anchor="end" fill="#4d4d4d">tRNA−Val−TAC−2−1</text>
<text x="130.4" y="557.66" font-size="8.56" text-anchor="end" fill="#4d4d4d">tRNA−Val−CAC−3−1</text>
<text x="130.4" y="573.58" font-size="8.56" text-anchor="end" fill="#4d4d4d">tRNA−Trp−CCA−2−1</text>
<text x="130.4" y="589.49" font-size="8.56" text-anchor="end" fill="#4d4d4d">tRNA−SeC−TCA−1−1</text>
<text x="130.4" y="605.41" font-size="8.56" text-anchor="end" fill="#4d4d4d">tRNA−iMet−CAT−3−1</text>
<text x="130.4" y="621.32" font-size="8.56" text-anchor="end" fill="#4d4d4d">tRNA−His−GTG−2−1</text>
<text x="130.4" y="637.23" font-size="8.56" text-anchor="end" fill="#4d4d4d">tRNA−His−GTG−1−1</text>
<text x="130.4" y="653.15" font-size="8.56" text-anchor="end" fill="#4d4d4d">tRNA−Gly−GCC−5−1</text>
<text x="130.4" y="669.06" font-size="8.56" text-anchor="end" fill="#4d4d4d">tRNA−Gly−GCC−3−1</text>
<text x="130.4" y="684.98" font-size="8.56" text-anchor="end" fill="#4d4d4d">tRNA−Gly−GCC−2−1</text>
<text x="130.4" y="700.89" font-size="8.56" text-anchor="end" fill="#4d4d4d">tRNA−Gly−GCC−1−1</text>
<text x="130.4" y="716.8" font-size="8.56" text-anchor="end" fill="#4d4d4d">tRNA−Gly−CCC−1−1</text>
<text x="130.4" y="732.72" font-size="8.56" text-anchor="end" fill="#4d4d4d">tRNA−Glu−TTC−8−1</text>
<text x="130.4" y="748.63" font-size="8.56" text-anchor="end" fill="#4d4d4d">tRNA−Glu−TTC−4−1</text>
<text x="130.4" y="764.55" font-size="8.56" text-anchor="end" fill="#4d4d4d">tRNA−Glu−TTC−3−1</text>
<text x="130.4" y="780.46" font-size="8.56" text-anchor="end" fill="#4d4d4d">tRNA−Glu−CTC−3−1</text>
<text x="130.4" y="796.37" font-size="8.56" text-anchor="end" fill="#4d4d4d">tRNA−Glu−CTC−2−1</text>
<text x="130.4" y="812.29" font-size="8.56" text-anchor="end" fill="#4d4d4d">tRNA−Glu−CTC−1−1</text>
<text x="130.4" y="828.2" font-size="8.56" text-anchor="end" fill="#4d4d4d">tRNA−Gln−CTG−5−1</text>
<text x="130.4" y="844.12" font-size="8.56" text-anchor="end" fill="#4d4d4d">tRNA−Gln−CTG−3−1</text>
<text x="130.4" y="860.03" font-size="8.56" text-anchor="end" fill="#4d4d4d">tRNA−Gln−CTG−2−1</text>
<text x="130.4" y="875.94" font-size="8.56" text-anchor="end" fill="#4d4d4d">tRNA−Gln−CTG−1−1</text>
<text x="130.4" y="891.86" font-size="8.56" text-anchor="end" fill="#4d4d4d">nmt−tRNA−Leu−TAA−1−1</text>
<text x="149.71" y="910.5" font-size="8.8" text-anchor="middle" fill="#4d4d4d">−3</text>
<text x="183.04" y="910.5" font-size="8.8" text-anchor="middle" fill="#4d4d4d">−2</text>
<text x="216.37" y="910.5" font-size="8.8" text-anchor="middle" fill="#4d4d4d">−1</text>
<text x="249.7" y="910.5" font-size="8.8" text-anchor="middle" fill="#4d4d4d">0</text>
<text x="283.03" y="910.5" font-size="8.8" text-anchor="middle" fill="#4d4d4d">1</text>
<text x="316.36" y="910.5" font-size="8.8" text-anchor="middle" fill="#4d4d4d">2</text>
<path d="M133.6,538.3H136.8M133.6,554.21H136.8M133.6,570.13H136.8M133.6,586.04H136.8M133.6,601.96H136.8M133.6,617.87H136.8M133.6,633.78H136.8M133.6,649.7H136.8M133.6,665.61H136.8M133.6,681.53H136.8M133.6,697.44H136.8M133.6,713.35H136.8M133.6,729.27H136.8M133.6,745.18H136.8M133.6,761.1H136.8M133.6,777.01H136.8M133.6,792.92H136.8M133.6,808.84H136.8M133.6,824.75H136.8M133.6,840.67H136.8M133.6,856.58H136.8M133.6,872.49H136.8M133.6,888.41H136.8M149.71,898v3M183.04,898v3M216.37,898v3M249.7,898v3M283.03,898v3M316.36,898v3" stroke="#333" stroke-width="1.15" fill="none"/>
<circle cx="305.4" cy="538.3" r="2.6" fill="#17324d"/>
<circle cx="208.1" cy="554.21" r="4.0" fill="#15304a"/>
<circle cx="209.9" cy="570.13" r="3.7" fill="#15304a"/>
<circle cx="167.2" cy="586.04" r="3.4" fill="#2a5b8c"/>
<circle cx="152" cy="601.96" r="1.0" fill="#132b43"/>
<circle cx="332.6" cy="617.87" r="2.6" fill="#1f4a72"/>
<circle cx="329.8" cy="633.78" r="4.9" fill="#4ba3ec"/>
<circle cx="288.1" cy="649.7" r="5.4" fill="#132b43"/>
<circle cx="290.5" cy="665.61" r="5.4" fill="#15304a"/>
<circle cx="291.5" cy="681.53" r="5.4" fill="#17365a"/>
<circle cx="300.1" cy="697.44" r="5.7" fill="#15304a"/>
<circle cx="294.4" cy="713.35" r="5.3" fill="#17334f"/>
<circle cx="317.6" cy="729.27" r="4.9" fill="#2d6599"/>
<circle cx="311.6" cy="745.18" r="4.9" fill="#2d6a9f"/>
<circle cx="320.4" cy="761.1" r="4.9" fill="#3070a8"/>
<circle cx="188.9" cy="777.01" r="2.2" fill="#15304a"/>
<circle cx="305.1" cy="792.92" r="6.2" fill="#245a8c"/>
<circle cx="305.1" cy="808.84" r="6.2" fill="#245a8c"/>
<circle cx="190.6" cy="824.75" r="4.5" fill="#28609a"/>
<circle cx="191.3" cy="840.67" r="3.8" fill="#1e4a72"/>
<circle cx="189.4" cy="856.58" r="3.8" fill="#1e4a72"/>
<circle cx="188.9" cy="872.49" r="4.5" fill="#2c6699"/>
<circle cx="208.5" cy="888.41" r="3.8" fill="#152f4a"/>
<text x="383.3" y="538" font-size="7.3" font-weight="bold" text-anchor="middle" fill="#111">Threshold:</text>
<text x="383.3" y="545.6" font-size="7.3" font-weight="bold" text-anchor="middle" fill="#111">|log2FC|>1</text>
<text x="383.3" y="553.2" font-size="7.3" font-weight="bold" text-anchor="middle" fill="#111">padj&lt;0.05</text>
<text x="365.9" y="625.8" font-size="7.45" font-weight="bold" fill="#111">−Log10(padj)</text>
<rect x="365.9" y="633.2" width="14.8" height="73.6" fill="url(#cb)"/>
<text x="387.4" y="643.1" font-size="7.6" fill="#222">10.0</text>
<text x="387.4" y="662.4" font-size="7.6" fill="#222">7.5</text>
<text x="387.4" y="681.6" font-size="7.6" fill="#222">5.0</text>
<text x="387.4" y="701.2" font-size="7.6" fill="#222">2.5</text>
<path d="M365.9,640.4h3M380.7,640.4h-3M365.9,659.7h3M380.7,659.7h-3M365.9,678.9h3M380.7,678.9h-3M365.9,698.5h3M380.7,698.5h-3" stroke="#fff" stroke-width="0.6" fill="none"/>
<text x="366.3" y="741" font-size="7.4" font-weight="bold" fill="#111">Log2(baseMean)</text>
<rect x="365.9" y="747.8" width="15" height="59.8" fill="#eeeeee"/>
<circle cx="373.3" cy="756" r="3.1" fill="#000"/>
<text x="387.4" y="758.7" font-size="7.6" fill="#222">7.5</text>
<circle cx="373.3" cy="770.8" r="4.3" fill="#000"/>
<text x="387.4" y="773.5" font-size="7.6" fill="#222">10.0</text>
<circle cx="373.3" cy="785.4" r="5.3" fill="#000"/>
<text x="387.4" y="788.1" font-size="7.6" fill="#222">12.5</text>
<circle cx="373.3" cy="800.2" r="6.2" fill="#000"/>
<text x="387.4" y="802.9" font-size="7.6" fill="#222">15.0</text>
<text x="355.1" y="899.6" font-size="8.7" font-weight="bold" fill="#111">log2FoldChange</text>
</g>
<g id="pg">
<text x="458.3" y="523" font-size="24.5" font-weight="bold" fill="#000">g</text>
<path d="M522.6,575.5 L536,575.5 M522.6,579.5 L536,579.5 M522.6,583.5 L536,583.5 M522.6,587.5 L536,587.5 M522.6,591.5 L536,591.5 M522.6,595.5 L536,595.5 M521.8,639 L535.2,639 M521.8,643 L535.2,643 M521.8,647 L535.2,647 M521.8,651 L535.2,651 M521.8,655 L535.2,655 M498,612.7 L498,625.8 M502,612.7 L502,625.8 M506,612.7 L506,625.8 M510,612.7 L510,625.8 M550,602.6 L550,616.2 M554,602.6 L554,616.2 M558,602.6 L558,616.2 M562,602.6 L562,616.2 M566,602.6 L566,616.2 " fill="none" stroke="#8c8c8c" stroke-width="1.15"/><path d="M536,546 L536,594.6 Q536,602.6 544,602.6 L570.75,602.6 A14.8,14.8 0 1 1 570.75,616.2 L545.5,616.2 C548.5,617.5 552.8,621.5 552.4,626.5 C552,631.2 549,634.4 545.3,634.4 C541.5,634.4 538.8,631.8 536.2,628.8 L535.2,631.5 L535.2,660 C536.7,662 542.6,666.5 543.6,674 C544,678.5 542.5,683 538.3,683 L519.4,683 C515.2,683 513.6,678.5 514,674 C515,666.5 520.3,662 521.8,660 L521.8,633.8 Q521.8,625.8 513.8,625.8 L494.47,625.8 A14.8,14.8 0 1 1 494.47,612.7 L514.6,612.7 Q522.6,612.7 522.6,604.7 L522.6,570" fill="none" stroke="#585858" stroke-width="1.75" stroke-linejoin="round" stroke-linecap="round"/>
<text x="528.7" y="703" font-size="16.3" text-anchor="middle" fill="#000">tRNA library</text>
<path d="M652.3,517H670.9M652.3,523H670.9M652.3,528.9H670.9M652.3,534.9H670.9M652.3,540.8H670.9" stroke="#c0383a" stroke-width="1.4" fill="none" opacity="0.85"/>
<path d="M652.3,512.4 V545.3 C652.3,548 649.8,549.3 647.7,551.2 C643.4,555 641.6,559 641.6,564 C641.6,572.5 644.6,579.5 651.1,579.5 H672.1 C678.6,579.5 681.6,572.5 681.6,564 C681.6,559 679.8,555 675.5,551.2 C673.4,549.3 670.9,548 670.9,545.3 V512.4" stroke="#c0383a" stroke-width="2.6" fill="none" stroke-linejoin="round"/>
<text x="662.6" y="600" font-size="13.7" font-weight="bold" text-anchor="middle" fill="#c23a3c">Optimal</text>
<rect x="607.3" y="608.6" width="110.1" height="154.1" rx="4" ry="4" fill="#f0a8ab"/>
<text x="662.2" y="625.5" font-size="12.95" text-anchor="middle" fill="#000">F-GAA-3-1</text>
<text x="662.2" y="641.39" font-size="12.95" font-weight="bold" text-anchor="middle" fill="#707070">F-GAA-11-1</text>
<text x="662.2" y="657.28" font-size="12.95" text-anchor="middle" fill="#000">L-CAG-1-1</text>
<text x="662.2" y="673.17" font-size="12.95" text-anchor="middle" fill="#000">V-CAC-9-1</text>
<text x="662.2" y="689.06" font-size="12.95" text-anchor="middle" fill="#000"><tspan font-weight="bold">I</tspan>-GAT-1-1</text>
<text x="662.2" y="704.95" font-size="12.95" font-weight="bold" text-anchor="middle" fill="#000">A-AGC/GGC-2-1</text>
<text x="662.2" y="720.84" font-size="12.95" text-anchor="middle" fill="#000">G-GCC-1-1/-5-1</text>
<text x="662.2" y="736.73" font-size="12.95" text-anchor="middle" fill="#000">Y-GTA-1-1</text>
<text x="662.2" y="752.62" font-size="12.95" font-weight="bold" text-anchor="middle" fill="#000">T-AGT/GGT-7-1</text>
<path d="M768.3,517H786.9M768.3,523H786.9M768.3,528.9H786.9M768.3,534.9H786.9M768.3,540.8H786.9" stroke="#e98c8c" stroke-width="1.4" fill="none" opacity="0.85"/>
<path d="M768.3,512.4 V545.3 C768.3,548 765.8,549.3 763.7,551.2 C759.4,555 757.6,559 757.6,564 C757.6,572.5 760.6,579.5 767.1,579.5 H788.1 C794.6,579.5 797.6,572.5 797.6,564 C797.6,559 795.8,555 791.5,551.2 C789.4,549.3 786.9,548 786.9,545.3 V512.4" stroke="#e98c8c" stroke-width="2.6" fill="none" stroke-linejoin="round"/>
<text x="778.1" y="599.6" font-size="13.7" font-weight="bold" text-anchor="middle" fill="#e58d8d">Less optimal</text>
<rect x="723.6" y="608.4" width="109.4" height="56.3" rx="4" ry="4" fill="#f6c8ca"/>
<text x="777.8" y="624.6" font-size="12.95" font-weight="bold" text-anchor="middle" fill="#707070" text-decoration="underline">iM-CAT-3-1</text>
<text x="777.8" y="640.45" font-size="12.95" text-anchor="middle" fill="#000">E-CTC-1-1</text>
<text x="777.8" y="656.3" font-size="12.95" font-weight="bold" text-anchor="middle" fill="#707070" text-decoration="underline">E-CTC-3-1</text>
<path d="M884,517H902.6M884,523H902.6M884,528.9H902.6M884,534.9H902.6M884,540.8H902.6" stroke="#2080c8" stroke-width="1.4" fill="none" opacity="0.85"/>
<path d="M884,512.4 V545.3 C884,548 881.5,549.3 879.4,551.2 C875.1,555 873.3,559 873.3,564 C873.3,572.5 876.3,579.5 882.8,579.5 H903.8 C910.3,579.5 913.3,572.5 913.3,564 C913.3,559 911.5,555 907.2,551.2 C905.1,549.3 902.6,548 902.6,545.3 V512.4" stroke="#2080c8" stroke-width="2.6" fill="none" stroke-linejoin="round"/>
<path d="M884,512.3 V545 M902.6,512.3 V545" stroke="#1a5c9c" stroke-width="2.6" fill="none"/>
<text x="893.5" y="599.6" font-size="13.7" font-weight="bold" text-anchor="middle" fill="#2a86cc">Non-optimal</text>
<rect x="840" y="609.1" width="108.4" height="153" rx="4" ry="4" fill="#80c5cd"/>
<text x="893.2" y="628.5" font-size="12.95" font-weight="bold" text-anchor="middle" fill="#000">P-GGG/AGG-1-1</text>
<text x="893.2" y="644.33" font-size="12.95" text-anchor="middle" fill="#000">D-GTC-2-1</text>
<text x="893.2" y="660.16" font-size="12.95" text-anchor="middle" fill="#000">N-ATT-1-1</text>
<text x="893.2" y="675.99" font-size="12.95" text-anchor="middle" fill="#000">E-TTC-3-1</text>
<text x="893.2" y="691.82" font-size="12.95" text-anchor="middle" fill="#000">R-TCT-1-1</text>
<text x="893.2" y="707.65" font-size="12.95" text-anchor="middle" fill="#000">K-TTT-1-1/-4-1</text>
<text x="893.2" y="723.48" font-size="12.95" font-weight="bold" text-anchor="middle" fill="#707070">K-TTT-7/-9/-13-1</text>
<text x="893.2" y="739.31" font-size="12.95" text-anchor="middle" fill="#000">T-TGT-1-1</text>
<text x="893.2" y="755.14" font-size="12.95" text-anchor="middle" fill="#000">C-ACA-1-1</text>
<path d="M1000.1,517H1018.7M1000.1,523H1018.7M1000.1,528.9H1018.7M1000.1,534.9H1018.7M1000.1,540.8H1018.7" stroke="#22b4d0" stroke-width="1.4" fill="none" opacity="0.85"/>
<path d="M1000.1,512.4 V545.3 C1000.1,548 997.6,549.3 995.5,551.2 C991.2,555 989.4,559 989.4,564 C989.4,572.5 992.4,579.5 998.9,579.5 H1019.9 C1026.4,579.5 1029.4,572.5 1029.4,564 C1029.4,559 1027.6,555 1023.3,551.2 C1021.2,549.3 1018.7,548 1018.7,545.3 V512.4" stroke="#22b4d0" stroke-width="2.6" fill="none" stroke-linejoin="round"/>
<text x="1010.1" y="599.6" font-size="13.7" font-weight="bold" text-anchor="middle" fill="#22b0cc">Less non-optimal</text>
<rect x="955.8" y="609.1" width="108.4" height="86.9" rx="4" ry="4" fill="#c2e0e5"/>
<text x="1009.6" y="626" font-size="12.95" text-anchor="middle" fill="#000">V-TAC-2-1</text>
<text x="1009.6" y="641.75" font-size="12.95" text-anchor="middle" fill="#000">H-GTG-1-1/-2-1</text>
<text x="1009.6" y="657.5" font-size="12.95" font-weight="bold" text-anchor="middle" fill="#707070">Q-CTG-6-1</text>
<text x="1009.6" y="673.25" font-size="12.95" font-weight="bold" text-anchor="middle" fill="#707070">Y-ATA-1-1</text>
<text x="1009.6" y="689" font-size="12.95" font-weight="bold" text-anchor="middle" fill="#707070" text-decoration="underline">Sec-TCA-1-1</text>
</g>
<g id="ph">
<text x="458" y="785" font-size="24.5" font-weight="bold" fill="#000">h</text>
<path d="M480.7,804.9 H516 M630,804.9 H636 M819,804.7 H854 M480.7,873.9 H516 M630,873.9 H636 M755,873.6 H790" stroke="#303030" stroke-width="1.45" fill="none"/>
<path d="M516,791.7 H615 V779.3 L630,805 L615,830.7 V818.3 H516 Z" fill="#3a68b4"/>
<path d="M516,861 H615 V848.3 L630,874 L615,899.5 V887.3 H516 Z" fill="#3a68b4"/>
<text x="524" y="809.2" font-size="13.8" fill="#fff">CMV promoter</text>
<text x="524" y="878.8" font-size="13.8" fill="#fff">7sk promoter</text>
<rect x="636" y="792.2" width="119.1" height="25.5" fill="#3fa2aa"/>
<rect x="755.1" y="792.2" width="11.7" height="25.5" fill="#ea9860"/>
<rect x="766.8" y="792.2" width="52.5" height="25.5" fill="#5f9a58"/>
<rect x="636" y="861" width="119.1" height="25.8" fill="#c092cc"/>
<text x="647.7" y="809.6" font-size="13.85" fill="#fff">Spike B.1.1.529</text>
<text x="773.7" y="809.6" font-size="13.65" fill="#fff">EGFP</text>
<text x="655" y="878.8" font-size="13.75" fill="#fff">Natural tRNA</text>
<path d="M860.3,804.2 H864.5 Q872.3,804.2 872.3,812 V832 Q872.3,839.7 880,839.7 H926 M860.3,874.9 H864.5 Q872.3,874.9 872.3,867 V847.5 Q872.3,839.7 880,839.7" stroke="#1c1c1c" stroke-width="1.5" fill="none"/>
<path d="M931.6,839.7 L924.8,836.5 L924.8,842.9 Z" fill="#222"/>
<text x="883.3" y="832.5" font-size="13.6" fill="#000">Ratio?</text>
<text x="954.7" y="900.5" font-size="13.7" fill="#000">HEK293T cells</text>
</g>
<g id="cells">
<path d="M966.95,874.19Q975.01,874.61 981.85,874.45Q986.77,876.42 992.22,878.08Q994.3,879.92 998.06,881.97Q991.29,881.97 985.74,882.49Q980.14,881 974.08,879.89Q971.4,877.14 966.95,874.19Z" fill="#dcdcdc"/>
<path d="M1002.6,875.74Q1008.33,871.89 1012.97,867.97Q1016.28,863.93 1019.71,858.63Q1020.02,864.53 1021,869.26Q1023.03,871.4 1026.19,873.41Q1020.62,877.55 1015.82,882.49Q1013.39,879.96 1010.63,878.6Q1007.24,876.83 1002.6,875.74Z" fill="#d8d8d8"/>
<path d="M956.58,812.22Q961.08,808.96 964.74,804.45Q966.33,806.31 967.85,806.52Q976.09,803.9 985.74,799.26Q981.7,805.35 979.91,809.63Q977,814.51 975.63,818.96Q974.58,823.31 974.72,828.56Q970.85,826.81 967.59,826.48Q963.31,827.17 958.52,829.33Q955.66,830.6 951.13,833.87Q955.35,827.47 957.87,822.59Q959.51,819.21 960.08,816.11Q958.91,814.39 956.58,812.22Z" fill="#d6d6d6"/>
<circle cx="967.85" cy="815.08" r="4.93" fill="#c4c4c4"/>
<circle cx="967.85" cy="815.08" r="2.59" fill="#b8b8b8"/>
<path d="M986.78,796.41Q992.93,798.69 997.41,799.52Q1002.82,802.43 1008.04,804.45Q1011.38,808.22 1015.82,811.96Q1017.41,815.57 1021,820.26Q1014.88,817.62 1010.37,816.37Q1005.11,814.01 1000,812.48Q997.15,809.06 993.26,805.74Q991.01,801.59 986.78,796.41Z" fill="#d6d6d6"/>
<circle cx="1005.84" cy="808.07" r="3.5" fill="#c4c4c4"/>
<circle cx="1005.84" cy="808.07" r="1.81" fill="#b8b8b8"/>
<circle cx="992.22" cy="822.98" r="10.11" fill="#d6d6d6"/>
<circle cx="990.93" cy="823.89" r="4.28" fill="#c4c4c4"/>
<circle cx="990.93" cy="823.89" r="2.33" fill="#b8b8b8"/>
<path d="M1020.74,802.5Q1027.24,806.58 1032.41,809.11Q1036.4,808.94 1040.45,807.56Q1040.62,810.14 1041.49,811.7Q1043.64,813.88 1046.93,815.59Q1045.75,818.94 1046.02,822.59Q1048.16,827.14 1052.12,833.22Q1045.45,828.95 1040.19,826.48Q1036.28,824.61 1032.41,823.89Q1028.93,823.16 1024.37,823.37Q1027.12,820.15 1028.52,817.41Q1028.45,813.76 1027.23,809.63Q1024.83,806.83 1020.74,802.5Z" fill="#d6d6d6"/>
<circle cx="1038.24" cy="817.02" r="4.28" fill="#c4c4c4"/>
<circle cx="1038.24" cy="817.02" r="2.2" fill="#b8b8b8"/>
<path d="M945.3,840.22Q952.37,838.3 957.22,836.21Q963.34,835.53 968.89,834.26Q973.59,835.53 979.26,836.21Q982.15,837.94 987.3,839.45Q981.54,840.65 977.96,842.04Q971.78,842.82 966.3,844.11Q960.93,843.18 954.63,842.82Q951.16,841.37 945.3,840.22Z" fill="#d6d6d6"/>
<circle cx="967.21" cy="838.8" r="3.24" fill="#c4c4c4"/>
<circle cx="967.21" cy="838.8" r="1.69" fill="#b8b8b8"/>
<path d="M995.47,840.22Q1002.11,837.3 1006.48,834.26Q1010.25,830.79 1012.97,826.22Q1018.09,828.68 1023.34,829.72Q1032.67,832.12 1044.34,833.61Q1036.89,836.04 1032.41,838.15Q1027.13,839.95 1023.34,842.04Q1020.02,845.5 1017.11,850.08Q1015.19,846.71 1012.97,844.63Q1009.04,842.97 1003.89,842.04Q1000.91,840.92 995.47,840.22Z" fill="#d6d6d6"/>
<circle cx="1019.84" cy="834.91" r="4.54" fill="#c4c4c4"/>
<circle cx="1019.84" cy="834.91" r="2.33" fill="#b8b8b8"/>
<path d="M1019.19,856.56Q1024.75,852.25 1028.52,848.52Q1034.52,845.5 1040.19,842.04Q1047.3,840.67 1056,838.15Q1050.31,842.48 1046.67,845.93Q1041.75,849.11 1037.6,852.41Q1033.31,853.33 1028.52,855Q1024.75,855.26 1019.19,856.56Z" fill="#d6d6d6"/>
<circle cx="1037.6" cy="845.93" r="3.24" fill="#c4c4c4"/>
<circle cx="1037.6" cy="845.93" r="1.69" fill="#b8b8b8"/>
<circle cx="950.74" cy="855.65" r="10.37" fill="#d6d6d6"/>
<circle cx="949.19" cy="857.34" r="4.41" fill="#c4c4c4"/>
<circle cx="949.19" cy="857.34" r="2.33" fill="#b8b8b8"/>
<path d="M967.33,853.19Q971.26,851.26 974.08,848.52Q979.21,849.7 984.45,849.82Q988.98,848.73 995.08,846.45Q991.09,850.54 988.98,853.71Q986.15,857.53 984.45,861.48Q982.35,864.28 980.82,868.23Q976.92,866.09 972.78,865.37Q970.77,863.56 967.59,862.78Q969.57,859.94 970.19,857.6Q969.45,855.48 967.33,853.19Z" fill="#d6d6d6"/>
<circle cx="976.93" cy="856.56" r="3.89" fill="#c4c4c4"/>
<circle cx="976.93" cy="856.56" r="1.94" fill="#b8b8b8"/>
<path d="M994.56,865.63Q997.19,860.36 998.71,855Q1001.29,853.49 1003.37,850.85Q1005.63,853.49 1008.04,855Q1009.61,859.04 1011.93,862.78Q1012.02,865.79 1013.23,869.52Q1007.68,868.2 1002.6,867.97Q999,866.39 994.56,865.63Z" fill="#d6d6d6"/>
<circle cx="1003.5" cy="861.48" r="3.89" fill="#c4c4c4"/>
<circle cx="1003.5" cy="861.48" r="1.94" fill="#b8b8b8"/>
</g>
<g id="wm" opacity="0.52" fill="none" stroke="#555" stroke-linecap="butt" stroke-linejoin="miter">
<path d="M760.2,857.2 C768.5,857.2 775.2,862.4 775.2,869.2 C775.2,869.5 775.2,869.7 775.1,870 C767,869 761,873.5 761.3,880 C760.9,880.1 760.6,880.1 760.2,880.1 C758,880.1 755.9,879.7 754,879.1 L750.8,884 L750.6,877.6 C747.4,875.5 745.3,872.5 745.3,869.2 C745.3,862.4 751.9,857.2 760.2,857.2 Z" fill="#555" stroke="none"/>
<path d="M774.4,870.3 C781.4,870.3 787,874.5 787,879.8 C787,882.6 785.4,885.1 782.9,886.8 L783.6,891.2 L779.8,888.5 C778.1,889 776.3,889.3 774.4,889.3 C767.4,889.3 761.8,885.1 761.8,879.8 C761.8,874.5 767.4,870.3 774.4,870.3 Z" fill="#555" stroke="none"/>
</g>
<g fill="#fff"><circle cx="755.6" cy="866.3" r="1.6"/><circle cx="765.3" cy="866.3" r="1.6"/><circle cx="770.2" cy="876.8" r="1.35"/><circle cx="778.8" cy="876.8" r="1.35"/></g>
<g id="wmt" opacity="0.46" fill="none" stroke="#595959">
<path transform="translate(797.4,862) scale(0.27,0.27)" d="M40,3 Q30,30 3,52 M66,2 Q76,30 100,50 M47,44 L12,90 L84,85 M72,64 L95,100" stroke-width="9.4"/>
<path transform="translate(828,862) scale(0.27,0.27)" d="M50,2 Q44,26 8,44 M50,10 Q60,30 94,44 M27,48 Q26,76 2,98 M27,62 Q36,84 50,96 M72,48 Q70,76 46,98 M72,62 Q82,84 100,97" stroke-width="9.4"/>
<path transform="translate(861,862) scale(0.27,0.27)" d="M22,6 H80 V36 H22 Z M4,52 H96 M34,52 L28,70 H78 Q80,94 58,94 L50,93" stroke-width="9.4"/>
<circle cx="903.8" cy="876" r="1.9" fill="#595959" stroke="none"/>
<path transform="translate(923.8,862) scale(0.27,0.27)" d="M24,2 L29,12 M4,18 H52 M15,24 L20,38 M41,24 L36,38 M2,42 H54 M4,62 H52 M28,42 V98 M25,66 Q18,82 2,90 M32,68 L50,86 M94,6 Q78,14 61,17 M61,15 V52 Q61,82 50,98 M61,42 H100 M82,42 V98" stroke-width="9.4"/>
<path transform="translate(954.3,862) scale(0.27,0.27)" d="M30,2 Q22,28 2,48 M19,30 V98 M34,16 H100 M67,2 V62 M45,30 H90 V54 H45 Z M67,54 Q62,82 34,98 M46,66 Q66,90 100,97" stroke-width="9.4"/>
<path transform="translate(987,862) scale(0.27,0.27)" d="M30,6 Q24,28 6,46 M22,28 H92 M52,2 V93 M18,59 H88 M2,93 H100" stroke-width="9.4"/>
<path transform="translate(1017.3,862) scale(0.27,0.27)" d="M22,4 Q18,22 6,36 M15,22 H48 M30,2 V98 M2,68 L50,50 M63,2 Q57,26 44,42 M58,22 H95 Q95,82 84,96 L72,91 M73,24 Q67,54 48,72 M87,26 Q82,66 56,92" stroke-width="9.4"/>
</g>
</svg></body></html>
